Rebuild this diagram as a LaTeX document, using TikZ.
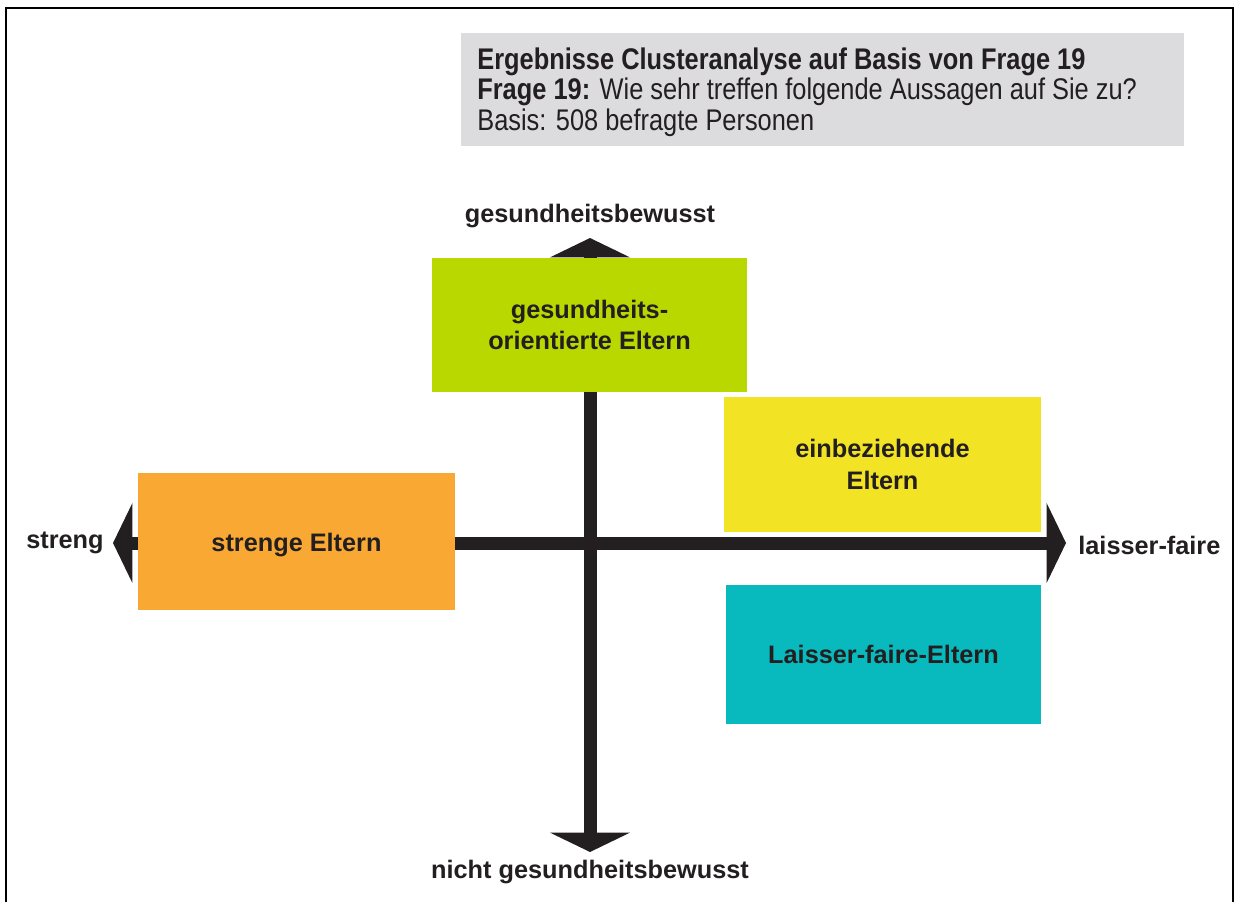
\documentclass[tikz,border=0pt]{standalone}
\usepackage{fontspec}
\setmainfont{Liberation Sans}
\newfontfamily\narrowfont[FakeStretch=0.85]{Liberation Sans}
\usetikzlibrary{arrows.meta}
\definecolor{txt}{HTML}{231F20}
\definecolor{hdrgray}{HTML}{DCDCDE}
\definecolor{cgreen}{HTML}{B9D800}
\definecolor{cyellow}{HTML}{F2E324}
\definecolor{corange}{HTML}{F8A833}
\definecolor{cteal}{HTML}{08B9BE}
\tikzset{
  cluster/.style={draw=none, inner sep=0pt, align=center, text=txt,
    font=\fontsize{14.4}{18}\selectfont\bfseries},
  axislabel/.style={inner sep=0pt, text=txt, font=\fontsize{14.4}{18}\selectfont\bfseries},
  axis/.style={line width=7.4pt, draw=txt,
    {Triangle[length=11pt,width=45pt]}-{Triangle[length=11pt,width=45pt]}},
}
\begin{document}
\begin{tikzpicture}[x=0.02cm,y=-0.02cm]
\useasboundingbox (0,0) rectangle (1239,902);
\fill[white] (0,0) rectangle (1239,902);
% frame
\draw[line width=1.6pt, black] (6,902) -- (6,8) -- (1233,8) -- (1233,902);
% header
\node[fill=hdrgray, minimum width=723*0.02cm, minimum height=113*0.02cm, inner sep=0pt] (hdr) at (822.5,89.5) {};
\node[anchor=west, inner sep=0pt, text=txt, align=left,
  font=\narrowfont\fontsize{17}{17.3}\selectfont] (hdrtext) at (477,92)
  {\textbf{Ergebnisse Clusteranalyse auf Basis von Frage 19}\\
   \textbf{Frage 19:} Wie sehr treffen folgende Aussagen auf Sie zu?\\
   Basis: 508 befragte Personen};
% axes coordinates
\coordinate (vtop) at (590,238);
\coordinate (vbot) at (590,852);
\coordinate (hleft) at (113,543);
\coordinate (hright) at (1066,543);
\draw[axis] (vtop) -- (vbot);
\draw[axis] (hleft) -- (hright);
% cluster boxes
\node[cluster, fill=cgreen, minimum width=315*0.02cm, minimum height=134*0.02cm] (green) at (589.5,325) {gesundheits-\\orientierte Eltern};
\node[cluster, fill=cyellow, minimum width=317*0.02cm, minimum height=135*0.02cm] (yellow) at (882.5,464.5) {einbeziehende\\Eltern};
\node[cluster, fill=corange, text height=14pt, text depth=3pt, minimum width=317*0.02cm, minimum height=137*0.02cm] (orange) at (296.5,541.5) {strenge Eltern};
\node[cluster, fill=cteal, minimum width=315*0.02cm, minimum height=139*0.02cm] (teal) at (883.5,654.5) {Laisser-faire-Eltern};
% axis labels
\node[axislabel] (lup) at (590,216) {gesundheitsbewusst};
\node[axislabel] (ldown) at (590,872) {nicht gesundheitsbewusst};
\node[axislabel, anchor=east] (lleft) at (104,543) {streng};
\node[axislabel, anchor=west] (lright) at (1078,545) {laisser-faire};
\end{tikzpicture}
\end{document}
